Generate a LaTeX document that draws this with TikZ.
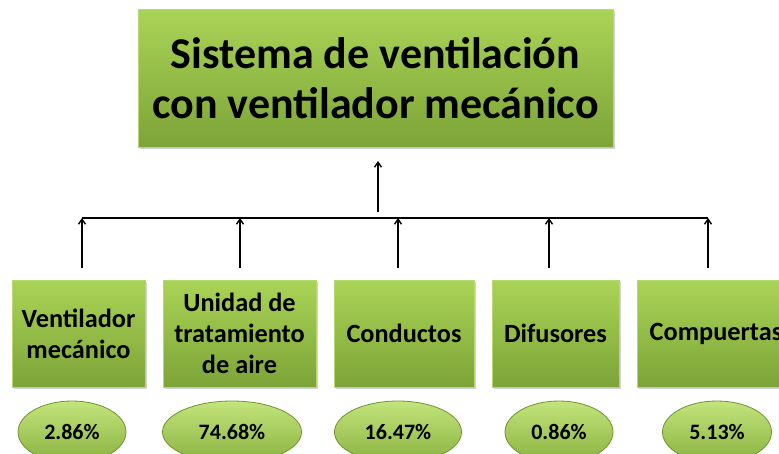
\documentclass[tikz,border=0pt]{standalone}
\usepackage{fontspec}
\setmainfont{Carlito}
\usetikzlibrary{arrows.meta,shadows,shapes.geometric}
\definecolor{gtop}{RGB}{170,212,86}
\definecolor{gbot}{RGB}{124,164,56}
\definecolor{gline}{RGB}{182,216,112}
\definecolor{etop}{RGB}{196,228,124}
\definecolor{ebot}{RGB}{136,178,64}
\definecolor{eline}{RGB}{110,148,46}
\tikzset{
  greenbox/.style={rectangle, inner sep=0pt, align=center, top color=gtop, bottom color=gbot,
    draw=gline, line width=0.6pt, drop shadow={shadow xshift=2pt, shadow yshift=-2pt, opacity=0.35}},
  pctell/.style={ellipse, inner sep=0pt, top color=etop, bottom color=ebot, draw=eline, line width=0.8pt,
    font=\fontsize{22}{24}\selectfont\bfseries},
  conn/.style={line width=1.8pt, -{Straight Barb[length=5pt,width=7pt,line width=1.4pt]}},
  busline/.style={line width=2.4pt}
}
\begin{document}
\begin{tikzpicture}[x=1pt,y=-1pt]
\useasboundingbox (0,0) rectangle (779,453);
\node[greenbox, minimum width=475pt, minimum height=138pt, font=\fontsize{44}{50}\selectfont\bfseries] (top) at (375.5,78) {\raisebox{-6pt}{\parbox{470pt}{\centering Sistema de ventilación\\con ventilador mecánico}}};
\tikzset{sub/.style={greenbox, minimum height=107pt, font=\fontsize{26.3}{31}\selectfont\bfseries}}
\node[sub, minimum width=133pt] (c1) at (78.5,333.5) {\raisebox{-5pt}{\parbox{130pt}{\centering Ventilador\\mecánico}}};
\node[sub, minimum width=153pt] (c2) at (239.5,333.5) {\raisebox{-5pt}{\parbox{150pt}{\centering Unidad de\\tratamiento\\de aire}}};
\node[sub, minimum width=140pt] (c3) at (404,333.5) {\raisebox{-4pt}{Conductos}};
\node[sub, minimum width=127pt] (c4) at (555.5,333.5) {\raisebox{-4pt}{Difusores}};
\node[sub, minimum width=158pt] (c5) at (716,333.5) {\raisebox{-4pt}{Compuertas}};
\node[pctell, minimum width=108pt, minimum height=62pt] (e1) at (72,432) {2.86\%};
\node[pctell, minimum width=139pt, minimum height=62pt] (e2) at (232,432) {74.68\%};
\node[pctell, minimum width=127pt, minimum height=62pt] (e3) at (398,432) {16.47\%};
\node[pctell, minimum width=108pt, minimum height=62pt] (e4) at (559,432) {0.86\%};
\node[pctell, minimum width=109pt, minimum height=62pt] (e5) at (717,432) {5.13\%};
% bus
\coordinate (b1) at (82,218);
\coordinate (b2) at (240,218);
\coordinate (b3) at (398,218);
\coordinate (b4) at (549,218);
\coordinate (b5) at (708,218);
\coordinate (s1) at (82,268);
\coordinate (s2) at (240,268);
\coordinate (s3) at (398,268);
\coordinate (s4) at (549,268);
\coordinate (s5) at (708,268);
\coordinate (up0) at (378,212);
\coordinate (up1) at (378,161);
\draw[busline] (b1) -- (b5);
\foreach \i in {1,...,5} \draw[conn] (s\i) -- (b\i);
\draw[conn] (up0) -- (up1);
\end{tikzpicture}
\end{document}
